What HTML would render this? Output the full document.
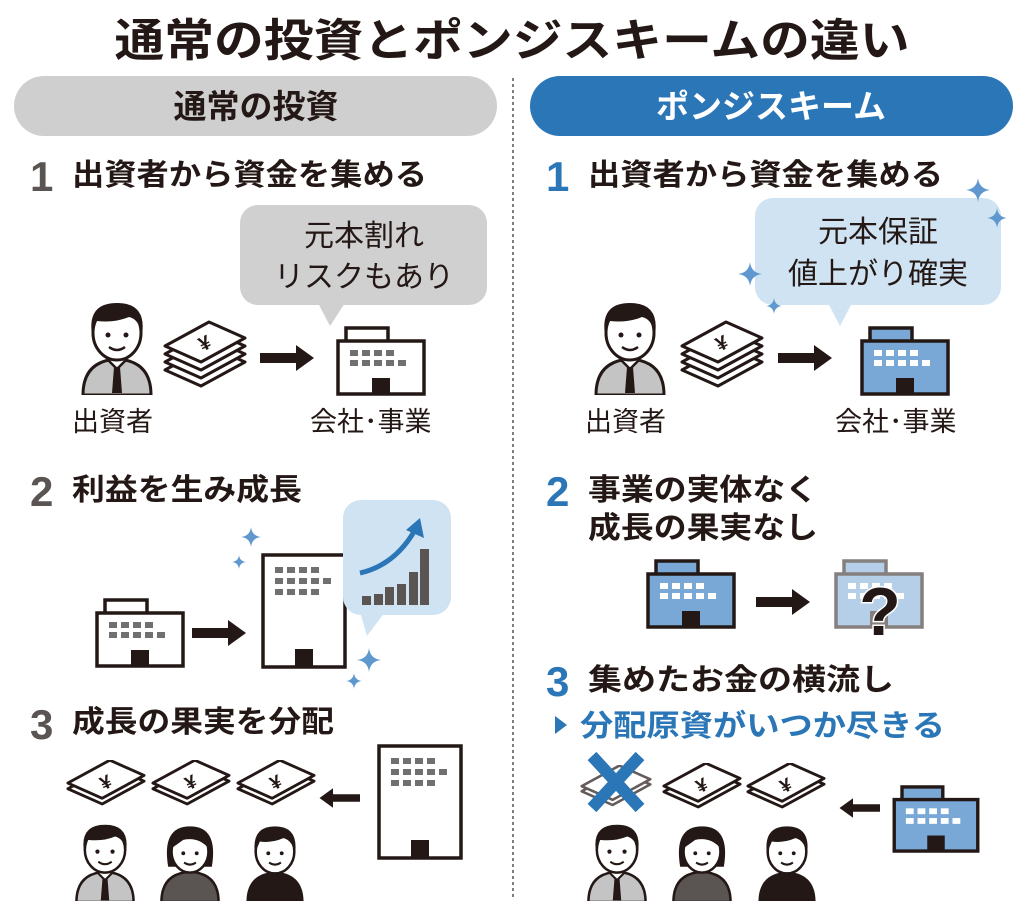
<!DOCTYPE html>
<html><head><meta charset="utf-8"><style>
html,body{margin:0;padding:0;background:#fff;}
svg{display:block;}
text{font-family:"Liberation Sans","Noto Sans CJK JP",sans-serif;}
.b{font-weight:bold;}
</style></head><body>
<svg width="1024" height="901" viewBox="0 0 1024 901" xmlns="http://www.w3.org/2000/svg">
<defs>
<symbol id="man" viewBox="0 0 76 100">
 <path d="M4,100 Q4,66 38,64 Q72,66 72,100 Z" fill="#c4c4c4" stroke="#231815" stroke-width="3"/>
 <path d="M28,64 L38,74 L48,64" fill="#fff" stroke="#231815" stroke-width="2.5"/>
 <path d="M35,72 L41,72 L43,98 L33,98 Z" fill="#231815"/>
 <ellipse cx="38" cy="38" rx="24" ry="27" fill="#fff" stroke="#231815" stroke-width="3"/>
 <path d="M13,40 Q8,8 38,8 Q68,8 63,40 Q60,24 50,22 Q36,28 18,26 Q14,30 13,40Z" fill="#231815"/>
 <circle cx="29" cy="40" r="2.5" fill="#231815"/><circle cx="47" cy="40" r="2.5" fill="#231815"/>
 <path d="M30,52 Q38,58 46,52" fill="none" stroke="#231815" stroke-width="2.5"/>
</symbol>
<symbol id="woman" viewBox="0 0 76 100">
 <path d="M4,100 Q4,66 38,64 Q72,66 72,100 Z" fill="#5a5552" stroke="#231815" stroke-width="3"/>
 <path d="M12,58 Q4,10 38,10 Q72,10 64,58 Z" fill="#231815"/>
 <ellipse cx="38" cy="40" rx="22" ry="25" fill="#fff" stroke="#231815" stroke-width="3"/>
 <path d="M16,36 Q20,12 38,14 Q56,12 60,36 Q48,22 30,26 Z" fill="#231815"/>
 <circle cx="30" cy="42" r="2.3" fill="#231815"/><circle cx="46" cy="42" r="2.3" fill="#231815"/>
 <path d="M31,53 Q38,58 45,53" fill="none" stroke="#231815" stroke-width="2.5"/>
</symbol>
<symbol id="kid" viewBox="0 0 76 100">
 <path d="M4,100 Q4,66 38,64 Q72,66 72,100 Z" fill="#231815"/>
 <ellipse cx="38" cy="40" rx="23" ry="26" fill="#fff" stroke="#231815" stroke-width="3"/>
 <path d="M14,42 Q10,10 38,10 Q66,10 62,42 Q58,26 48,24 Q34,30 20,28 Z" fill="#231815"/>
 <circle cx="30" cy="42" r="2.3" fill="#231815"/><circle cx="46" cy="42" r="2.3" fill="#231815"/>
 <path d="M31,53 Q38,58 45,53" fill="none" stroke="#231815" stroke-width="2.5"/>
</symbol>
<symbol id="bill" viewBox="0 0 84 50">
 <polygon points="2,30 46,6 82,22 38,46" fill="#fff" stroke="#231815" stroke-width="3" stroke-linejoin="round"/>
 <polygon points="2,22 46,-2 82,14 38,38" fill="#fff" stroke="#231815" stroke-width="3" stroke-linejoin="round" transform="translate(0,2)"/>
 <text x="42" y="30" font-size="20" font-weight="bold" fill="#231815" text-anchor="middle" transform="rotate(-25 42 24)">¥</text>
</symbol>
<symbol id="stack" viewBox="0 0 84 70">
 <polygon points="2,50 46,26 82,42 38,66" fill="#fff" stroke="#231815" stroke-width="3" stroke-linejoin="round"/>
 <polygon points="2,42 46,18 82,34 38,58" fill="#fff" stroke="#231815" stroke-width="3" stroke-linejoin="round"/>
 <polygon points="2,34 46,10 82,26 38,50" fill="#fff" stroke="#231815" stroke-width="3" stroke-linejoin="round"/>
 <polygon points="2,26 46,2 82,18 38,42" fill="#fff" stroke="#231815" stroke-width="3" stroke-linejoin="round"/>
 <text x="42" y="30" font-size="20" font-weight="bold" fill="#231815" text-anchor="middle" transform="rotate(-25 42 24)">¥</text>
</symbol>
<symbol id="bldg" viewBox="0 0 90 70">
 <rect x="10" y="2" width="42" height="14" fill="#fff" stroke="#231815" stroke-width="3.5"/>
 <rect x="2" y="15" width="86" height="53" fill="#fff" stroke="#231815" stroke-width="3.5"/>
 <g fill="#707070"><rect x="14" y="24" width="8" height="6"/><rect x="26" y="24" width="8" height="6"/><rect x="38" y="24" width="8" height="6"/><rect x="50" y="24" width="8" height="6"/>
 <rect x="14" y="34" width="8" height="6"/><rect x="26" y="34" width="8" height="6"/><rect x="38" y="34" width="8" height="6"/><rect x="50" y="34" width="8" height="6"/><rect x="62" y="34" width="8" height="6"/></g>
 <rect x="36" y="52" width="18" height="16" fill="#231815"/>
</symbol>
<symbol id="bbldg" viewBox="0 0 90 70">
 <rect x="10" y="2" width="42" height="14" fill="#79a8d6" stroke="#231815" stroke-width="3.5"/>
 <rect x="2" y="15" width="86" height="53" fill="#79a8d6" stroke="#231815" stroke-width="3.5"/>
 <g fill="#fff"><rect x="14" y="24" width="8" height="6"/><rect x="26" y="24" width="8" height="6"/><rect x="38" y="24" width="8" height="6"/><rect x="50" y="24" width="8" height="6"/>
 <rect x="14" y="34" width="8" height="6"/><rect x="26" y="34" width="8" height="6"/><rect x="38" y="34" width="8" height="6"/><rect x="50" y="34" width="8" height="6"/><rect x="62" y="34" width="8" height="6"/></g>
 <rect x="36" y="52" width="18" height="16" fill="#231815"/>
</symbol>
<symbol id="tall" viewBox="0 0 86 116">
 <rect x="2" y="2" width="82" height="112" fill="#fff" stroke="#231815" stroke-width="3.5"/>
 <g fill="#707070"><rect x="14" y="14" width="8" height="6"/><rect x="26" y="14" width="8" height="6"/><rect x="38" y="14" width="8" height="6"/><rect x="50" y="14" width="8" height="6"/>
 <rect x="14" y="25" width="8" height="6"/><rect x="26" y="25" width="8" height="6"/><rect x="38" y="25" width="8" height="6"/><rect x="50" y="25" width="8" height="6"/><rect x="62" y="25" width="8" height="6"/>
 <rect x="14" y="36" width="8" height="6"/><rect x="26" y="36" width="8" height="6"/><rect x="38" y="36" width="8" height="6"/><rect x="50" y="36" width="8" height="6"/></g>
 <rect x="34" y="96" width="18" height="18" fill="#231815"/>
</symbol>
<symbol id="spark" viewBox="0 0 20 20"><path d="M10,0 Q11,9 20,10 Q11,11 10,20 Q9,11 0,10 Q9,9 10,0Z" fill="#5f97cf"/></symbol>
<symbol id="arrR" viewBox="0 0 56 30"><path d="M0,10 H36 V2 L54,15 L36,28 V20 H0Z" fill="#231815"/></symbol>
</defs>

<text x="512" y="56" font-size="45" class="b" fill="#231815" text-anchor="middle" textLength="795" lengthAdjust="spacingAndGlyphs">通常の投資とポンジスキームの違い</text>

<rect x="14" y="76" width="483" height="60" rx="30" fill="#cfcfcf"/>
<text x="256" y="118" font-size="33" class="b" fill="#231815" text-anchor="middle">通常の投資</text>
<rect x="530" y="76" width="483" height="60" rx="30" fill="#2a76b7"/>
<text x="771" y="118" font-size="33" class="b" fill="#fff" text-anchor="middle">ポンジスキーム</text>
<line x1="513" y1="78" x2="513" y2="898" stroke="#555" stroke-width="1.5" stroke-dasharray="3,3"/>

<text x="30" y="191" font-size="42" class="b" fill="#5a5552">1</text>
<text x="72" y="185" font-size="30" class="b" fill="#231815" textLength="355" lengthAdjust="spacingAndGlyphs">出資者から資金を集める</text>
<rect x="240" y="205" width="247" height="100" rx="18" fill="#d0d0d0"/>
<polygon points="318,303 345,303 330,326" fill="#d0d0d0"/>
<text x="364" y="246" font-size="30" fill="#231815" text-anchor="middle">元本割れ</text>
<text x="364" y="287" font-size="30" fill="#231815" text-anchor="middle">リスクもあり</text>
<use href="#man" x="79" y="295" width="76" height="100"/>
<use href="#stack" x="163" y="320" width="84" height="70"/>
<use href="#arrR" x="260" y="343" width="56" height="30"/>
<use href="#bldg" x="336" y="326" width="90" height="70"/>
<text x="72" y="431" font-size="27" fill="#231815">出資者</text>
<text x="310" y="431" font-size="27" fill="#231815">会社･事業</text>

<text x="30" y="506" font-size="42" class="b" fill="#5a5552">2</text>
<text x="72" y="500" font-size="30" class="b" fill="#231815" textLength="230" lengthAdjust="spacingAndGlyphs">利益を生み成長</text>
<use href="#bldg" x="95" y="598" width="90" height="70"/>
<use href="#arrR" x="192" y="618" width="56" height="30"/>
<use href="#tall" x="261" y="553" width="86" height="116"/>
<rect x="343" y="500" width="108" height="115" rx="18" fill="#cfe3f2"/>
<polygon points="360,612 385,612 367,636" fill="#cfe3f2"/>
<g fill="#5a5552"><rect x="362" y="596" width="9" height="9"/><rect x="374" y="594" width="9" height="11"/><rect x="385" y="587" width="9" height="18"/><rect x="397" y="584" width="9" height="21"/><rect x="409" y="572" width="9" height="33"/><rect x="420" y="549" width="9" height="56"/></g>
<path d="M360,573 Q395,565 415,530" fill="none" stroke="#2a76b7" stroke-width="5"/>
<polygon points="420,518 424,538 406,530" fill="#2a76b7"/>
<use href="#spark" x="241" y="527" width="20" height="20"/>
<use href="#spark" x="232" y="555" width="14" height="14"/>
<use href="#spark" x="357" y="648" width="24" height="24"/>
<use href="#spark" x="346" y="673" width="16" height="16"/>

<text x="30" y="739" font-size="42" class="b" fill="#5a5552">3</text>
<text x="72" y="732" font-size="30" class="b" fill="#231815" textLength="262" lengthAdjust="spacingAndGlyphs">成長の果実を分配</text>
<use href="#tall" x="377" y="744" width="86" height="116"/>
<g transform="translate(360,786) scale(-1,1)"><use href="#arrR" x="0" y="0" width="42" height="24"/></g>
<use href="#bill" x="66" y="760" width="80" height="48"/>
<use href="#bill" x="151" y="760" width="80" height="48"/>
<use href="#bill" x="236" y="760" width="80" height="48"/>
<use href="#man" x="73" y="818" width="64" height="84"/>
<use href="#woman" x="158" y="818" width="64" height="84"/>
<use href="#kid" x="243" y="818" width="64" height="84"/>

<text x="546" y="191" font-size="42" class="b" fill="#2a76b7">1</text>
<text x="588" y="185" font-size="30" class="b" fill="#231815" textLength="355" lengthAdjust="spacingAndGlyphs">出資者から資金を集める</text>
<rect x="755" y="198" width="246" height="107" rx="18" fill="#cfe3f2"/>
<polygon points="828,303 852,303 840,326" fill="#cfe3f2"/>
<text x="878" y="242" font-size="30" fill="#231815" text-anchor="middle">元本保証</text>
<text x="878" y="284" font-size="30" fill="#231815" text-anchor="middle">値上がり確実</text>
<use href="#spark" x="966" y="178" width="24" height="24"/>
<use href="#spark" x="987" y="208" width="20" height="20"/>
<use href="#spark" x="738" y="262" width="24" height="24"/>
<use href="#spark" x="766" y="298" width="16" height="16"/>
<use href="#man" x="592" y="295" width="76" height="100"/>
<use href="#stack" x="680" y="320" width="84" height="70"/>
<use href="#arrR" x="778" y="343" width="56" height="30"/>
<use href="#bbldg" x="860" y="326" width="90" height="70"/>
<text x="585" y="431" font-size="27" fill="#231815">出資者</text>
<text x="835" y="431" font-size="27" fill="#231815">会社･事業</text>

<text x="546" y="506" font-size="42" class="b" fill="#2a76b7">2</text>
<text x="588" y="500" font-size="30" class="b" fill="#231815" textLength="230" lengthAdjust="spacingAndGlyphs">事業の実体なく</text>
<text x="588" y="538" font-size="30" class="b" fill="#231815" textLength="230" lengthAdjust="spacingAndGlyphs">成長の果実なし</text>
<use href="#bbldg" x="646" y="559" width="90" height="70"/>
<use href="#arrR" x="756" y="587" width="56" height="30"/>
<g opacity="0.55"><use href="#bbldg" x="834" y="559" width="90" height="70"/></g>
<text x="880" y="635" font-size="68" class="b" fill="#231815" stroke="#fff" stroke-width="3" paint-order="stroke" text-anchor="middle">?</text>

<text x="546" y="696" font-size="42" class="b" fill="#2a76b7">3</text>
<text x="588" y="690" font-size="30" class="b" fill="#231815" textLength="306" lengthAdjust="spacingAndGlyphs">集めたお金の横流し</text>
<polygon points="555,716 567,725 555,734" fill="#2a76b7"/>
<text x="580" y="736" font-size="30" class="b" fill="#2a76b7" textLength="365" lengthAdjust="spacingAndGlyphs">分配原資がいつか尽きる</text>
<g opacity="0.7"><use href="#bill" x="580" y="765" width="72" height="44"/></g>
<path d="M592,756 L640,808 M640,756 L592,808" stroke="#2a76b7" stroke-width="12"/>
<use href="#bill" x="662" y="763" width="80" height="48"/>
<use href="#bill" x="746" y="763" width="80" height="48"/>
<g transform="translate(880,796) scale(-1,1)"><use href="#arrR" x="0" y="0" width="42" height="24"/></g>
<use href="#bbldg" x="892" y="785" width="88" height="68"/>
<use href="#man" x="585" y="818" width="64" height="84"/>
<use href="#woman" x="670" y="818" width="64" height="84"/>
<use href="#kid" x="755" y="818" width="64" height="84"/>
</svg>
</body></html>
